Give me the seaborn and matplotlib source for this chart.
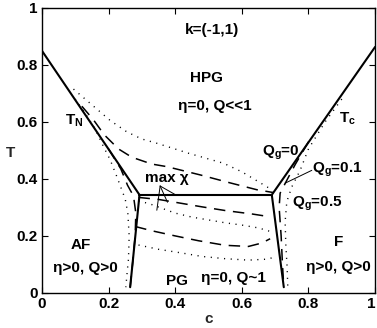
import matplotlib
matplotlib.use("Agg")
import matplotlib.pyplot as plt
import seaborn as sns
import numpy as np

# ---------------- data ----------------
# Q_g = 0 (solid)
tn_c = [0.0, 0.293]
tn_T = [0.85, 0.344]
hor_c = [0.293, 0.69]
hor_T = [0.344, 0.344]
tc_c = [0.69, 1.0]
tc_T = [0.344, 0.863]
lv_c = [0.293, 0.265]
lv_T = [0.344, 0.02]
rv_c = [0.69, 0.726]
rv_T = [0.344, 0.02]

# Q_g = 0.1 (dashed)
d_up_c = [0.12, 0.155, 0.187, 0.23, 0.27, 0.33, 0.375, 0.475, 0.565, 0.645, 0.695]
d_up_T = [0.655, 0.607, 0.555, 0.505, 0.476, 0.452, 0.443, 0.414, 0.386, 0.362, 0.352]
d_left_c = [0.2, 0.237, 0.257, 0.275, 0.282, 0.28, 0.272, 0.265]
d_left_T = [0.505, 0.435, 0.378, 0.34, 0.28, 0.2, 0.1, 0.02]
d_right_c = [0.8, 0.76, 0.735, 0.715, 0.712, 0.718, 0.722, 0.726]
d_right_T = [0.53, 0.45, 0.395, 0.35, 0.3, 0.2, 0.1, 0.02]
d_chi1_c = [0.29, 0.35, 0.4, 0.48, 0.55, 0.63, 0.685]
d_chi1_T = [0.335, 0.328, 0.318, 0.302, 0.289, 0.277, 0.267]
d_chi2_c = [0.28, 0.33, 0.4, 0.47, 0.55, 0.62, 0.66, 0.685]
d_chi2_T = [0.233, 0.218, 0.2, 0.183, 0.167, 0.163, 0.175, 0.19]

# Q_g = 0.5 (dotted)
p_up_c = [0.095, 0.155, 0.205, 0.255, 0.3, 0.345, 0.44, 0.545, 0.6, 0.65, 0.69]
p_up_T = [0.715, 0.655, 0.605, 0.565, 0.54, 0.525, 0.49, 0.455, 0.425, 0.39, 0.362]
p_left_c = [0.1, 0.13, 0.16, 0.185, 0.205, 0.225, 0.24, 0.25, 0.258, 0.262, 0.26, 0.255, 0.252]
p_left_T = [0.68, 0.63, 0.575, 0.513, 0.467, 0.408, 0.361, 0.33, 0.28, 0.2, 0.12, 0.06, 0.02]
p_right_c = [0.9, 0.85, 0.8, 0.775, 0.75, 0.735, 0.73, 0.732, 0.736, 0.738]
p_right_T = [0.68, 0.6, 0.505, 0.43, 0.372, 0.32, 0.25, 0.17, 0.09, 0.02]
p_chi1_c = [0.29, 0.32, 0.36, 0.4, 0.45, 0.5, 0.55, 0.6, 0.65, 0.69]
p_chi1_T = [0.322, 0.314, 0.297, 0.28, 0.266, 0.256, 0.246, 0.238, 0.228, 0.214]
p_chi2_c = [0.29, 0.35, 0.42, 0.48, 0.55, 0.62, 0.67, 0.7]
p_chi2_T = [0.168, 0.153, 0.14, 0.128, 0.12, 0.115, 0.118, 0.125]

x_ticks = [0, 0.2, 0.4, 0.6, 0.8, 1]
y_ticks = [0, 0.2, 0.4, 0.6, 0.8, 1]
x_ticklabels = ["0", "0.2", "0.4", "0.6", "0.8", "1"]
y_ticklabels = ["0", "0.2", "0.4", "0.6", "0.8", "1"]

# ---------------- style ----------------
sns.set_theme(style="ticks")
plt.rcParams["font.family"] = ["Liberation Sans", "DejaVu Sans"]
plt.rcParams["font.weight"] = "bold"
plt.rcParams["mathtext.fontset"] = "custom"
plt.rcParams["mathtext.rm"] = "Liberation Sans:bold"
plt.rcParams["mathtext.bf"] = "Liberation Sans:bold"
plt.rcParams["mathtext.it"] = "Liberation Sans:bold"

fig = plt.figure(figsize=(3.77, 3.28), dpi=100)
ax = fig.add_axes([0.111, 0.107, 0.884, 0.869])

def draw(xs, ys, **kw):
    sns.lineplot(x=xs, y=ys, sort=False, estimator=None, ax=ax, color="black", **kw)

for xs, ys in [(tn_c, tn_T), (hor_c, hor_T), (tc_c, tc_T), (lv_c, lv_T), (rv_c, rv_T)]:
    draw(xs, ys, linewidth=1.5)

for xs, ys in [(d_up_c, d_up_T), (d_left_c, d_left_T), (d_right_c, d_right_T),
               (d_chi1_c, d_chi1_T), (d_chi2_c, d_chi2_T)]:
    draw(xs, ys, linewidth=1.1)
    ax.lines[-1].set_linestyle((0, (7.5, 5)))

for xs, ys in [(p_up_c, p_up_T), (p_left_c, p_left_T), (p_right_c, p_right_T),
               (p_chi1_c, p_chi1_T), (p_chi2_c, p_chi2_T)]:
    draw(xs, ys, linewidth=1.0)
    ax.lines[-1].set_linestyle((0, (0.8, 4)))

# leader lines
lead = dict(arrowstyle="-", color="black", lw=0.7, shrinkA=0, shrinkB=0)
ax.annotate("", xy=(0.4, 0.345), xytext=(0.355, 0.375), arrowprops=lead)
ax.annotate("", xy=(0.377, 0.318), xytext=(0.355, 0.375), arrowprops=lead)
ax.annotate("", xy=(0.345, 0.29), xytext=(0.355, 0.375), arrowprops=lead)
ax.annotate("", xy=(0.73, 0.385), xytext=(0.81, 0.43), arrowprops=lead)

fs = 11
txt = dict(ha="center", va="center", fontsize=fs, fontweight="bold", color="black")
ax.text(0.512, 0.923, "k=(-1,1)", **txt)
ax.text(0.494, 0.754, "HPG", **txt)
ax.text(0.52, 0.656, "η=0, Q<<1", **txt)
ax.text(0.097, 0.605, r"T$_\mathbf{N}$", **txt)
ax.text(0.917, 0.61, r"T$_\mathbf{c}$", **txt)
ax.text(0.716, 0.49, r"Q$_\mathbf{g}$=0", **txt)
ax.text(0.888, 0.43, r"Q$_\mathbf{g}$=0.1", **txt)
ax.text(0.826, 0.312, r"Q$_\mathbf{g}$=0.5", **txt)
ax.text(0.376, 0.402, "max χ", **txt)
ax.text(0.118, 0.168, "AF", **txt)
ax.text(0.13, 0.088, "η>0, Q>0", **txt)
ax.text(0.407, 0.042, "PG", **txt)
ax.text(0.574, 0.054, "η=0, Q~1", **txt)
ax.text(0.89, 0.179, "F", **txt)
ax.text(0.89, 0.09, "η>0, Q>0", **txt)

ax.set_xlim(0, 1)
ax.set_ylim(0, 1)
ax.set_xticks(x_ticks)
ax.set_xticklabels(x_ticklabels)
ax.set_yticks(y_ticks)
ax.set_yticklabels(y_ticklabels)
ax.tick_params(direction="in", length=4, width=0.8, top=True, right=True,
               labelsize=fs, pad=3, colors="black")
for lab in ax.get_xticklabels() + ax.get_yticklabels():
    lab.set_fontweight("bold")
xl = ax.get_xticklabels()
xl[-1].set_horizontalalignment("right")
for s in ax.spines.values():
    s.set_visible(True)
    s.set_linewidth(1.0)
    s.set_color("black")
ax.set_xlabel("c", fontsize=fs, fontweight="bold", labelpad=1)
ax.set_ylabel("T", fontsize=fs, fontweight="bold", rotation=0, va="center")
ax.yaxis.set_label_coords(-0.095, 0.49)

fig.savefig("out.png", dpi=100)
